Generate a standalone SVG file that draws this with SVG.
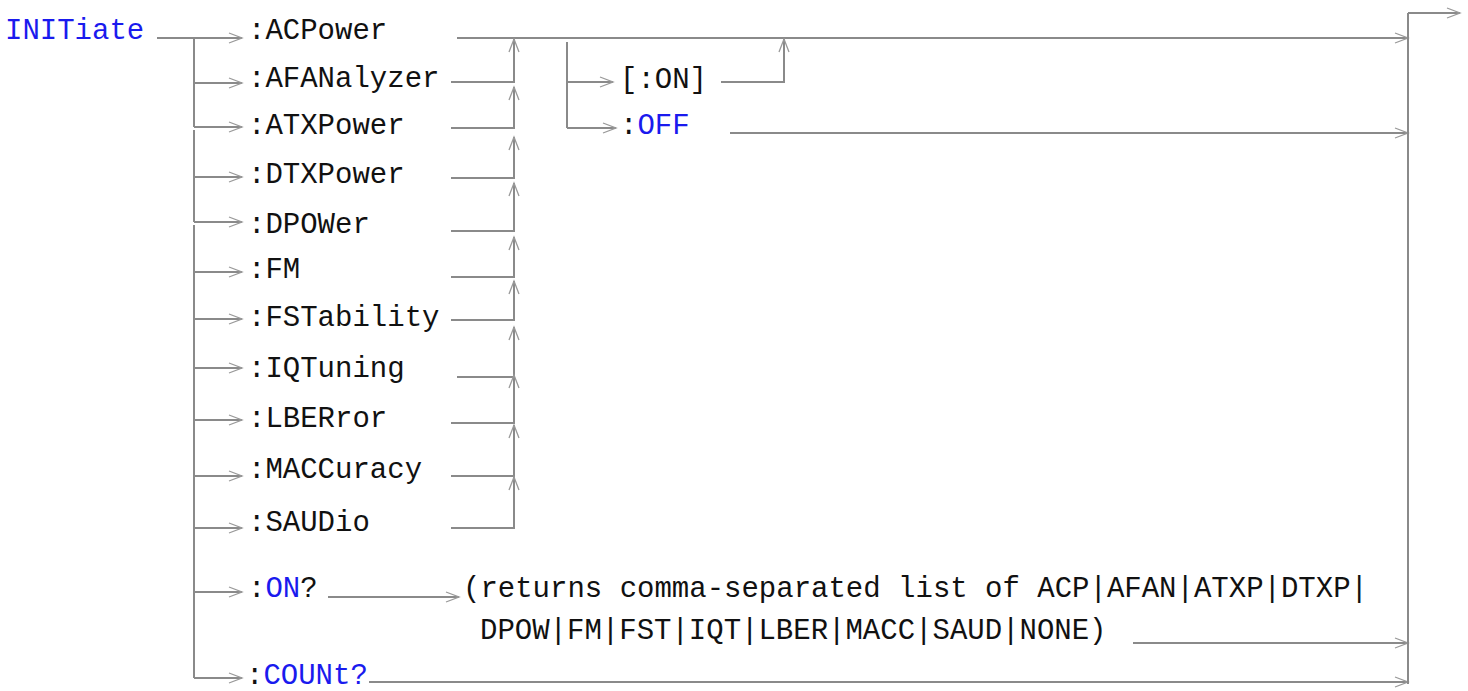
<svg xmlns="http://www.w3.org/2000/svg" width="1468" height="691" viewBox="0 0 1468 691">
<defs>
<marker id="arr" markerUnits="userSpaceOnUse" markerWidth="16" markerHeight="14" refX="13" refY="6" orient="auto" overflow="visible">
<path d="M0,1 L13,6 L0,11" fill="none" stroke="#999" stroke-width="1.3"/>
</marker>
<style>
.t{font-family:"Liberation Mono","Courier New",monospace;font-size:29px;fill:#111}
.b{fill:#1a1aee}
.c{fill:none;stroke:#8a8a8a;stroke-width:2}
.a{marker-end:url(#arr)}
</style>
</defs>
<rect width="1468" height="691" fill="#fff"/>
<g id="connectors">
<path class="c a" d="M157,38 H242"/>
<path class="c" d="M194,38 V127"/>
<path class="c" d="M194,130 V222"/>
<path class="c" d="M194,225 V678"/>
<path class="c a" d="M194,83 H242"/>
<path class="c a" d="M194,127 H242"/>
<path class="c a" d="M194,177 H242"/>
<path class="c a" d="M194,222 H242"/>
<path class="c a" d="M194,272 H242"/>
<path class="c a" d="M194,319 H242"/>
<path class="c a" d="M194,368 H242"/>
<path class="c a" d="M194,420 H242"/>
<path class="c a" d="M194,476 H242"/>
<path class="c a" d="M194,528 H242"/>
<path class="c a" d="M194,592 H242"/>
<path class="c a" d="M194,678 H242"/>
<path class="c a" d="M457,38 H1408"/>
<path class="c a" d="M451,82 H514 V39"/>
<path class="c a" d="M451,128 H514 V87"/>
<path class="c a" d="M451,178 H514 V137"/>
<path class="c a" d="M451,231 H514 V183"/>
<path class="c a" d="M451,277 H514 V237"/>
<path class="c a" d="M451,320 H514 V281"/>
<path class="c a" d="M457,377 H514 V327"/>
<path class="c a" d="M451,423 H514 V375"/>
<path class="c a" d="M451,476 H514 V425"/>
<path class="c a" d="M451,528 H514 V477"/>
<path class="c" d="M567,42 V128"/>
<path class="c a" d="M567,82 H613"/>
<path class="c a" d="M567,128 H616"/>
<path class="c a" d="M721,82 H784 V39"/>
<path class="c a" d="M730,133 H1408"/>
<path class="c a" d="M328,597 H459"/>
<path class="c a" d="M1133,643 H1408"/>
<path class="c a" d="M369,682 H1408"/>
<path class="c" d="M1408,684 V13"/>
<path class="c a" d="M1408,13 H1460"/>
</g>
<g id="n-initiate"><text class="t b" x="5" y="39">INITiate</text></g>
<g id="n-acpower"><text class="t" x="248" y="39">:ACPower</text></g>
<g id="n-afanalyzer"><text class="t" x="248" y="87">:AFANalyzer</text></g>
<g id="n-atxpower"><text class="t" x="248" y="134">:ATXPower</text></g>
<g id="n-dtxpower"><text class="t" x="248" y="183">:DTXPower</text></g>
<g id="n-dpower"><text class="t" x="248" y="233">:DPOWer</text></g>
<g id="n-fm"><text class="t" x="248" y="278">:FM</text></g>
<g id="n-fstability"><text class="t" x="248" y="326">:FSTability</text></g>
<g id="n-iqtuning"><text class="t" x="248" y="377">:IQTuning</text></g>
<g id="n-lberror"><text class="t" x="248" y="427">:LBERror</text></g>
<g id="n-maccuracy"><text class="t" x="248" y="478">:MACCuracy</text></g>
<g id="n-saudio"><text class="t" x="248" y="531">:SAUDio</text></g>
<g id="n-on"><text class="t" x="620" y="88">[:ON]</text></g>
<g id="n-off"><text class="t" x="620" y="134">:<tspan class="b">OFF</tspan></text></g>
<g id="n-onq"><text class="t" x="248" y="597">:<tspan class="b">ON</tspan>?</text></g>
<g id="n-returns"><text class="t" x="463" y="597">(returns comma-separated list of ACP|AFAN|ATXP|DTXP|</text><text class="t" x="480" y="639">DPOW|FM|FST|IQT|LBER|MACC|SAUD|NONE)</text></g>
<g id="n-count"><text class="t" x="246" y="684">:<tspan class="b">COUNt?</tspan></text></g>
</svg>
